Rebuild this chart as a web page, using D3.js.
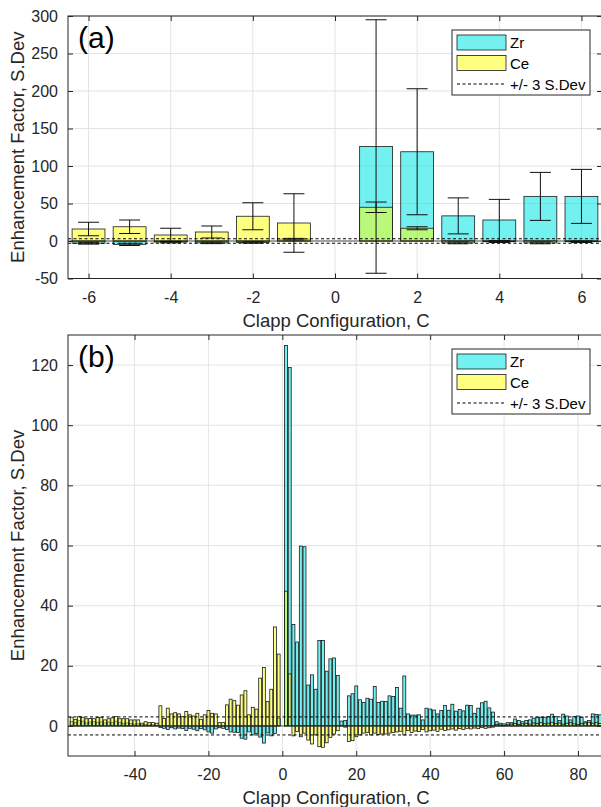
<!DOCTYPE html>
<html><head><meta charset="utf-8">
<script src="https://cdn.jsdelivr.net/npm/d3@7"></script>
<style>body{margin:0;background:#fff}svg{display:block}</style>
</head><body><svg id="c" width="601" height="807"></svg>
<script>
// ---------- Panel (a) data ----------
const aCats = [-6, -5, -4, -3, -2, -1, 1, 2, 3, 4, 5, 6];
const aZr = [-3, -4.5, -1.5, -2.5, -2, 2.5, 126, 119, 33.5, 28, 59.5, 59.5];
const aZrErr = [1.2, 1.5, 1, 1, 1, 1, 169, 84, 24, 27.5, 32, 36];
const aCe = [16, 19, 8, 12, 33, 24, 45, 17, -2.5, -1, -2.5, -1];
const aCeErr = [9, 9, 9, 8, 18, 39, 7, 2, 1.2, 1, 1.2, 1];
const aXTicks = [-6, -4, -2, 0, 2, 4, 6];
const aYTicks = [-50, 0, 50, 100, 150, 200, 250, 300];

// ---------- Panel (b) data (C = -57..-1, 1..86) ----------
const bCats = d3.range(-57, 0).concat(d3.range(1, 87));
const bCe = [
  2.9, 2.2, 3.1, 2.9, 2.4, 2.5, 2.4, 2.8, 2.9, 2.0, 2.4, 2.7, 3.1, 2.4, 2.4, 2.4, 2.0, 2.0, 2.0, 0.9, 1.4, 1.1, 1.1, 0.9,
  6.7, 2.5, 5.9, 4.0, 4.4, 4.0, 3.1, 4.8, 3.7, 3.3, 4.2, 2.2, 3.7, 5.1, 4.2, 4.0, 1.1, 1.1,
  7.0, 8.9, 8.4, 6.9, 10.3, 11.7, 3.7, 6.2, 5.6, 15.9, 19.4, 8.1, 12.2, 32.9, 23.9,
  44.8, 17.3, -3.3, -1.9, -3.6, -2.4, -4.7, -6.0, -3.0, -6.9,
  -7.1, -5.6, -3.8, -2.7, -1.6, 0.1, -0.4, -5.2, -4.9, -3.6,
  -3.0, -2.4, -2.2, -3.0, -2.4, -2.9, -2.7, -2.7, -2.4, -2.2,
  -2.0, -1.8, -3.0, -1.5, -2.2, -1.7, -1.9, -1.2, -2.0, -1.6,
  -1.4, -1.8, -1.1, -1.5, -1.3, -1.0, -1.4, -0.9, -1.2, -0.8,
  -1.0, -0.7, -0.9, -0.5, -0.8, -0.6, -0.4, 0.5, 0.3, 0.2,
  0.4, 0.6, 0.8, 0.5, 0.7, 0.9, 0.6, 1.0, 0.8, 1.1,
  0.7, 0.9, 1.2, 0.8, 1.0, 0.6, 0.9, 1.1, 0.7, 0.5,
  0.8, 1.0, 1.2, 0.9, 1.1, 0.8
];
const bZr = [
  1.5, 1.2, 1.8, 1.6, 1.0, 1.3, 1.5, 1.2, 1.4, 1.0, 1.3, 1.1, 1.6, 1.2, 0.9, 1.0, 0.8, 0.6, 0.7, 0.4, 0.5, 0.3, 0.4, 0.2,
  -0.5, -0.8, -1.2, -0.6, -1.0, -0.7, -0.9, -1.5, -0.8, -1.1, -1.6, -0.9, -1.3, -2.0, -2.4, -1.0, -0.6, -0.8,
  -1.2, -2.0, -2.1, -2.2, -4.1, -4.4, -2.0, -3.0, -2.5, -3.7, -5.7, -2.3, -3.3, -2.5, 2.5,
  126.5, 119.2, 33.7, 27.9, 59.8, 59.6, 13.6, 17.0, 12.2, 28.4,
  28.4, 18.2, 22.3, 22.6, 16.8, 1.6, 1.8, 10.0, 10.7, 13.3,
  8.7, 7.8, 9.2, 8.9, 13.1, 7.8, 8.2, 8.1, 10.0, 9.8,
  12.8, 5.9, 16.6, 4.0, 3.6, 3.6, 3.7, 2.0, 5.9, 5.6,
  5.3, 4.0, 5.1, 6.8, 5.2, 7.2, 4.9, 5.5, 5.0, 6.9,
  6.8, 4.2, 5.9, 7.7, 8.2, 6.0, 4.6, 1.4, 0.9, 0.7,
  1.1, 1.1, 2.3, 1.8, 1.4, 1.8, 2.0, 2.6, 2.9, 2.9,
  2.9, 3.1, 3.9, 3.1, 1.8, 3.9, 3.3, 2.0, 3.1, 3.3,
  2.9, 1.4, 1.8, 4.0, 3.8, 3.7
];
const bXTicks = [-40, -20, 0, 20, 40, 60, 80];
const bYTicks = [0, 20, 40, 60, 80, 100, 120];

const seriesNames = ["Zr", "Ce", "+/- 3 S.Dev"];
const sdevLevel = 3;

// ---------- drawing ----------
const FONT = 'Arial, "Liberation Sans", Helvetica, sans-serif';
const AX = '#262626', GRID = '#e4e4e4';
const ZR_FILL = '#00e6e6', ZR_OP = 0.55, CE_FILL = '#ffff00', CE_OP = 0.5;
const svg = d3.select('#c');

function panel(o) {
  const {x, y, xTicks, yTicks, cats, zr, ce, zrErr, ceErr, barW, tag, clipId} = o;
  const [xl, xr] = x.range();
  const [yb, yt] = y.range();
  const g = svg.append('g');
  g.append('clipPath').attr('id', clipId).append('rect')
    .attr('x', xl).attr('y', yt).attr('width', xr - xl).attr('height', yb - yt);

  // grid
  g.append('g').selectAll('line').data(xTicks).join('line')
    .attr('x1', d => x(d)).attr('x2', d => x(d)).attr('y1', yt).attr('y2', yb)
    .attr('stroke', GRID).attr('stroke-width', 1);
  g.append('g').selectAll('line').data(yTicks).join('line')
    .attr('y1', d => y(d)).attr('y2', d => y(d)).attr('x1', xl).attr('x2', xr)
    .attr('stroke', GRID).attr('stroke-width', 1);

  const body = g.append('g').attr('clip-path', `url(#${clipId})`);
  function bars(vals, fill, op) {
    body.append('g').selectAll('rect').data(cats.map((c, i) => ({c, v: vals[i]}))).join('rect')
      .attr('x', d => x(d.c - barW / 2))
      .attr('width', d => x(d.c + barW / 2) - x(d.c - barW / 2))
      .attr('y', d => y(Math.max(0, d.v)))
      .attr('height', d => Math.abs(y(d.v) - y(0)))
      .attr('fill', fill).attr('fill-opacity', op)
      .attr('stroke', '#1a1a1a').attr('stroke-width', 0.8);
  }
  bars(zr, ZR_FILL, ZR_OP);
  bars(ce, CE_FILL, CE_OP);

  // baseline
  body.append('line').attr('x1', xl).attr('x2', xr).attr('y1', y(0)).attr('y2', y(0))
    .attr('stroke', AX).attr('stroke-width', 0.8);
  // +/- 3 S.Dev
  body.append('g').selectAll('line').data([sdevLevel, -sdevLevel]).join('line')
    .attr('x1', xl).attr('x2', xr).attr('y1', d => y(d)).attr('y2', d => y(d))
    .attr('stroke', '#000').attr('stroke-width', 1).attr('stroke-dasharray', '3,2.5');

  // error bars
  if (zrErr) {
    [[zr, zrErr], [ce, ceErr]].forEach(([v, e]) => {
      const eg = body.append('g').selectAll('g').data(cats.map((c, i) => ({c, v: v[i], e: e[i]}))).join('g');
      eg.append('line').attr('x1', d => x(d.c)).attr('x2', d => x(d.c))
        .attr('y1', d => y(d.v - d.e)).attr('y2', d => y(d.v + d.e))
        .attr('stroke', '#111').attr('stroke-width', 1);
      [-1, 1].forEach(s => {
        eg.append('line').attr('x1', d => x(d.c) - 10.5).attr('x2', d => x(d.c) + 10.5)
          .attr('y1', d => y(d.v + s * d.e)).attr('y2', d => y(d.v + s * d.e))
          .attr('stroke', '#111').attr('stroke-width', 1);
      });
    });
  }

  // axes
  const ax = (gen, tx, ty, labels) => {
    const a = g.append('g').attr('transform', `translate(${tx},${ty})`).call(gen);
    a.select('.domain').remove();
    a.selectAll('line').attr('stroke', AX);
    a.selectAll('text').attr('fill', AX).style('font-family', FONT).style('font-size', '16px');
    if (!labels) a.selectAll('text').remove();
    return a;
  };
  ax(d3.axisBottom(x).tickValues(xTicks).tickSize(-5).tickPadding(13).tickFormat(d3.format('d')), 0, yb, true);
  ax(d3.axisTop(x).tickValues(xTicks).tickSize(-5), 0, yt, false);
  ax(d3.axisLeft(y).tickValues(yTicks).tickSize(-5).tickPadding(10).tickFormat(d3.format('d')), xl, 0, true);
  ax(d3.axisRight(y).tickValues(yTicks).tickSize(-5), xr, 0, false);
  g.selectAll('text').text(function () { return this.textContent.replace('−', '-'); });

  g.append('rect').attr('x', xl).attr('y', yt).attr('width', xr - xl).attr('height', yb - yt)
    .attr('fill', 'none').attr('stroke', AX).attr('stroke-width', 1);

  // labels
  g.append('text').attr('x', (xl + xr) / 2 + 1).attr('y', yb + 48).attr('text-anchor', 'middle')
    .style('font-family', FONT).style('font-size', '18.5px').attr('fill', AX).text('Clapp Configuration, C');
  g.append('text').attr('transform', `translate(24,${(yt + yb) / 2}) rotate(-90)`).attr('text-anchor', 'middle')
    .style('font-family', FONT).style('font-size', '18.5px').attr('fill', AX).text('Enhancement Factor, S.Dev');
  g.append('text').attr('x', xl + 10).attr('y', yt + 32)
    .style('font-family', FONT).style('font-size', '30px').attr('fill', '#000').text(tag);

  // legend
  const lx = 452, ly = yt + 14, lw = 138, lh = 65;
  const lg = g.append('g');
  lg.append('rect').attr('x', lx).attr('y', ly).attr('width', lw).attr('height', lh)
    .attr('fill', '#fff').attr('stroke', AX).attr('stroke-width', 1);
  const rows = [ly + 12.5, ly + 33, ly + 54];
  lg.append('rect').attr('x', lx + 5).attr('y', rows[0] - 7.5).attr('width', 49).attr('height', 15)
    .attr('fill', ZR_FILL).attr('fill-opacity', ZR_OP).attr('stroke', '#1a1a1a').attr('stroke-width', 0.8);
  lg.append('rect').attr('x', lx + 5).attr('y', rows[1] - 7.5).attr('width', 49).attr('height', 15)
    .attr('fill', CE_FILL).attr('fill-opacity', CE_OP).attr('stroke', '#1a1a1a').attr('stroke-width', 0.8);
  lg.append('line').attr('x1', lx + 5).attr('x2', lx + 54).attr('y1', rows[2]).attr('y2', rows[2])
    .attr('stroke', '#000').attr('stroke-width', 1).attr('stroke-dasharray', '3,2.5');
  lg.selectAll('text.l').data(seriesNames).join('text').attr('class', 'l')
    .attr('x', lx + 58).attr('y', (d, i) => rows[i] + 5.5)
    .style('font-family', FONT).style('font-size', '15px').attr('fill', '#000').text(d => d);
}

panel({
  x: d3.scaleLinear().domain([-6.5, 6.5]).range([68, 602]),
  y: d3.scaleLinear().domain([-50, 300]).range([278.5, 16]),
  xTicks: aXTicks, yTicks: aYTicks, cats: aCats, zr: aZr, ce: aCe,
  zrErr: aZrErr, ceErr: aCeErr, barW: 0.8, tag: '(a)', clipId: 'clipA'
});
panel({
  x: d3.scaleLinear().domain([-58, 86.5]).range([68, 602]),
  y: d3.scaleLinear().domain([-10, 130]).range([756, 335]),
  xTicks: bXTicks, yTicks: bYTicks, cats: bCats, zr: bZr, ce: bCe,
  zrErr: null, ceErr: null, barW: 0.8, tag: '(b)', clipId: 'clipB'
});
</script></body></html>
